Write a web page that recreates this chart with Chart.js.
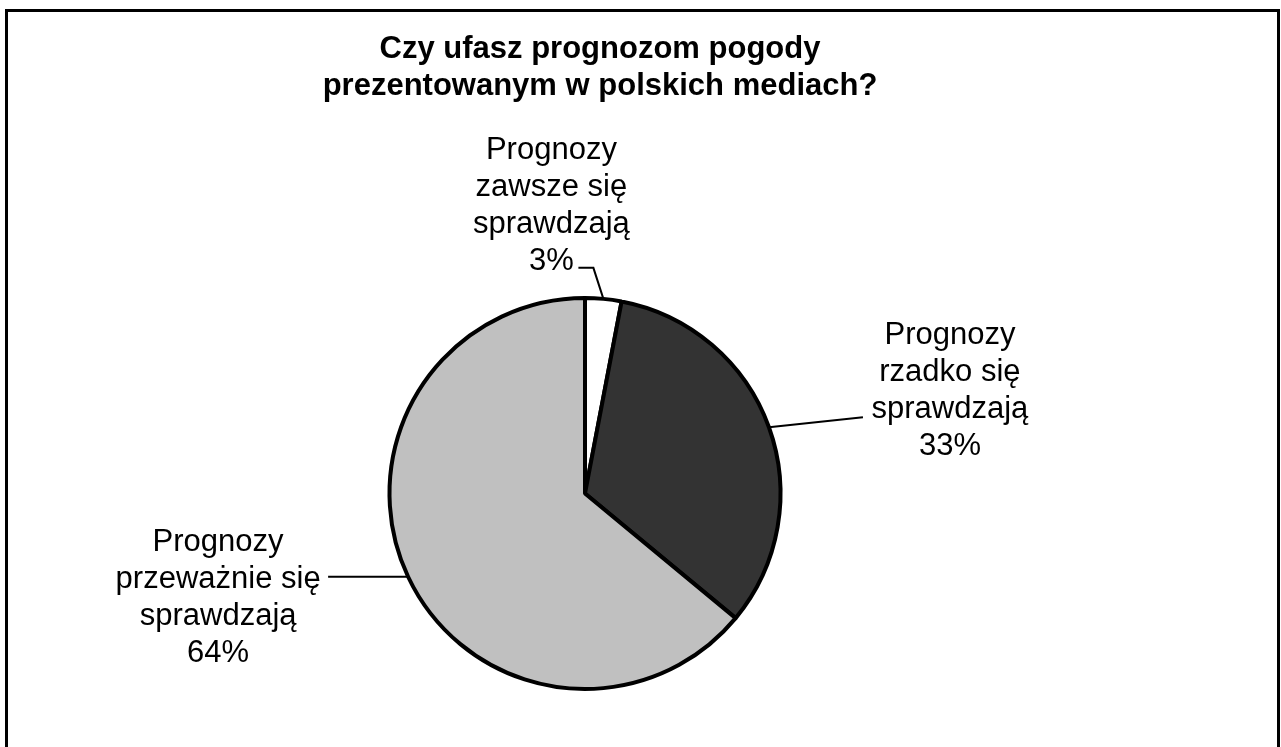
<!DOCTYPE html>
<html lang="pl">
  <head>
    <meta charset="UTF-8" />
    <title>Czy ufasz prognozom pogody</title>
    <script src="https://cdn.jsdelivr.net/npm/chart.js"></script>
    <style>
      body { margin: 0; background: #fff; }
      #wrap { width: 1281px; height: 747px; }
    </style>
  </head>
  <body>
    <div id="wrap">
      <canvas id="wykres" width="1281" height="747"></canvas>
    </div>

    <script>
      // dane wykresu
      const tytul = ["Czy ufasz prognozom pogody", "prezentowanym w polskich mediach?"];
      const kategorie = [
        ["Prognozy", "zawsze się", "sprawdzają"],
        ["Prognozy", "rzadko się", "sprawdzają"],
        ["Prognozy", "przeważnie się", "sprawdzają"],
      ];
      const wartosci = [3, 33, 64];
      const kolory = ["#ffffff", "#333333", "#c0c0c0"];

      // ramka + tytul
      const ramka = {
        id: "ramka",
        beforeDraw(chart) {
          const ctx = chart.ctx;
          ctx.save();
          ctx.fillStyle = "#fff";
          ctx.fillRect(0, 0, chart.width, chart.height);
          ctx.strokeStyle = "#000";
          ctx.lineWidth = 3;
          ctx.strokeRect(6.5, 10.5, 1272, 800);
          ctx.fillStyle = "#000";
          ctx.font = "bold 31px 'Liberation Sans', Arial, sans-serif";
          ctx.textAlign = "center";
          ctx.textBaseline = "alphabetic";
          ctx.fillText(tytul[0], 600, 58);
          ctx.fillText(tytul[1], 600, 95);
          ctx.restore();
        },
      };

      // etykiety z liniami odniesienia
      const etykiety = {
        id: "etykiety",
        afterDraw(chart, args, opts) {
          const ctx = chart.ctx;
          const meta = chart.getDatasetMeta(0);
          const suma = wartosci.reduce((a, b) => a + b, 0);
          ctx.save();
          ctx.font = opts.font;
          ctx.fillStyle = "#000";
          ctx.strokeStyle = "#000";
          ctx.lineWidth = 2;
          ctx.textAlign = "center";
          ctx.textBaseline = "alphabetic";
          meta.data.forEach(function (luk, i) {
            const p = luk.getProps(["x", "y", "startAngle", "endAngle", "outerRadius"], true);
            const srodek = (p.startAngle + p.endAngle) / 2;
            const ex = p.x + Math.cos(srodek) * p.outerRadius;
            const ey = p.y + Math.sin(srodek) * p.outerRadius;
            const poz = opts.pozycje[i];

            ctx.beginPath();
            ctx.moveTo(ex, ey);
            poz.linia.forEach(function (pt) {
              ctx.lineTo(ex + pt[0], ey + pt[1]);
            });
            ctx.stroke();

            const linie = kategorie[i].concat(Math.round((wartosci[i] / suma) * 100) + "%");
            const cx = ex + poz.dx;
            const gora = ey + poz.dy - ((linie.length - 1) * opts.wysokosc) / 2;
            linie.forEach(function (t, k) {
              ctx.fillText(t, cx, gora + k * opts.wysokosc);
            });
          });
          ctx.restore();
        },
      };

      const config = {
        type: "pie",
        data: {
          labels: kategorie,
          datasets: [
            {
              data: wartosci,
              backgroundColor: kolory,
              borderColor: "#000",
              borderWidth: 4,
            },
          ],
        },
        options: {
          responsive: false,
          animation: false,
          events: [],
          layout: { padding: { top: 296, bottom: 56, left: 0, right: 111 } },
          plugins: {
            legend: { display: false },
            tooltip: { enabled: false },
            title: { display: false },
            etykiety: {
              font: "31px 'Liberation Sans', Arial, sans-serif",
              wysokosc: 37,
              pozycje: [
                { dx: -52, dy: -84, linia: [[-10, -31], [-25, -31]] },
                { dx: 181, dy: -28, linia: [[94, -10]] },
                { dx: -190, dy: 30, linia: [[-80, 0]] },
              ],
            },
          },
        },
        plugins: [ramka, etykiety],
      };

      var wykres = new Chart(document.getElementById("wykres"), config);
    </script>
  </body>
</html>
